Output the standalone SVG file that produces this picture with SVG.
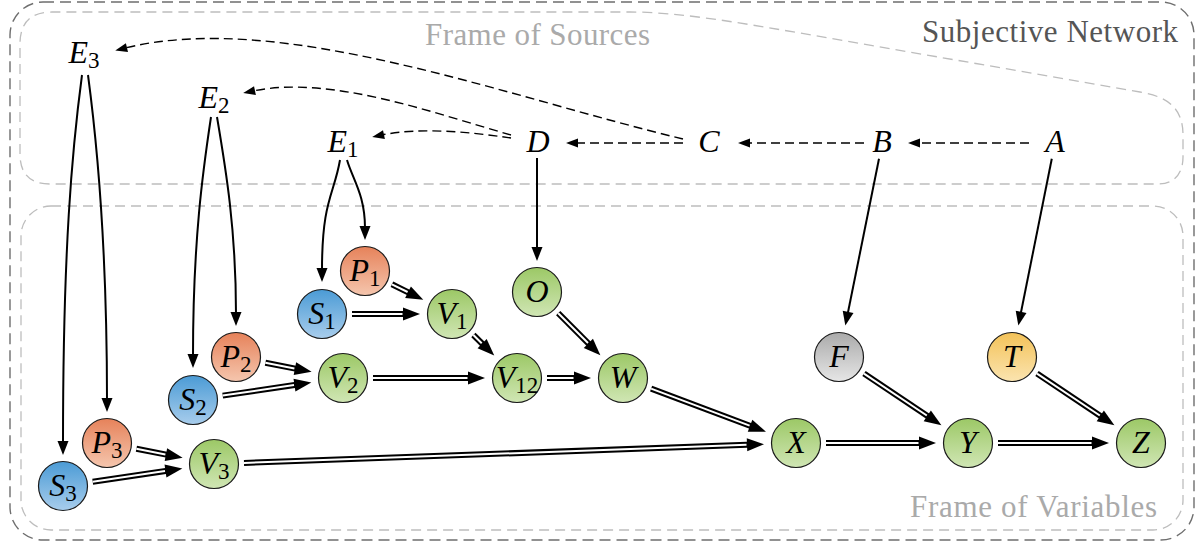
<svg xmlns="http://www.w3.org/2000/svg" width="1197" height="545" viewBox="0 0 1197 545">
  <style>
    .frame-outer { fill: none; stroke: #6e6e6e; stroke-width: 1.4; stroke-dasharray: 11 6; }
    .frame-inner { fill: none; stroke: #bdbdbd; stroke-width: 1.3; stroke-dasharray: 10 6; }
    .ftitle { font-family: "Liberation Serif", "DejaVu Serif", serif; font-size: 31px; }
    .lbl { font-family: "Liberation Serif", "DejaVu Serif", serif; font-style: italic; font-size: 32px; fill: #000; text-anchor: middle; }
    .sub { font-style: normal; font-size: 23px; }
    .node circle { stroke: #1a1a1a; stroke-width: 1.2; }
    .dash { fill: none; stroke: #000; stroke-width: 1.4; stroke-dasharray: 9 5; marker-end: url(#hdash); }
    .solid { fill: none; stroke: #000; stroke-width: 2; marker-end: url(#hs); }
    .dbl-o { fill: none; stroke: #000; stroke-width: 6; marker-end: url(#hd); }
    .dbl-i { fill: none; stroke: #fff; stroke-width: 2; }
  </style>
  <defs>
    <linearGradient id="gGreen" x1="0" y1="0" x2="0" y2="1">
      <stop offset="0" stop-color="#9cc866"/><stop offset="1" stop-color="#d0e6b4"/>
    </linearGradient>
    <linearGradient id="gBlue" x1="0" y1="0" x2="0" y2="1">
      <stop offset="0" stop-color="#4b9bd5"/><stop offset="1" stop-color="#a8cdec"/>
    </linearGradient>
    <linearGradient id="gOrange" x1="0" y1="0" x2="0" y2="1">
      <stop offset="0" stop-color="#e6825a"/><stop offset="1" stop-color="#f5c6ae"/>
    </linearGradient>
    <linearGradient id="gGray" x1="0" y1="0" x2="0" y2="1">
      <stop offset="0" stop-color="#aaaaaa"/><stop offset="1" stop-color="#e6e6e6"/>
    </linearGradient>
    <linearGradient id="gYellow" x1="0" y1="0" x2="0" y2="1">
      <stop offset="0" stop-color="#f3c258"/><stop offset="1" stop-color="#fbe4b0"/>
    </linearGradient>
    <!-- arrowheads: path end sits at the origin, tip points along +x -->
    <marker id="hd" markerUnits="userSpaceOnUse" orient="auto" overflow="visible" markerWidth="20" markerHeight="20">
      <path d="M10,0 L-7,-6.5 L-7,6.5 Z" fill="#000"/>
    </marker>
    <marker id="hs" markerUnits="userSpaceOnUse" orient="auto" overflow="visible" markerWidth="20" markerHeight="20">
      <path d="M12,0 L-2,-5.5 L-2,5.5 Z" fill="#000"/>
    </marker>
    <marker id="hdash" markerUnits="userSpaceOnUse" orient="auto" overflow="visible" markerWidth="20" markerHeight="20">
      <path d="M10,0 L-2,-4.5 L-2,4.5 Z" fill="#000"/>
    </marker>
  </defs>

  <rect width="1197" height="545" fill="#fff"/>

  <!-- frames -->
  <g id="frames">
    <rect class="frame-outer" x="10" y="2" width="1184" height="538" rx="33" ry="33"/>
    <path class="frame-inner" d="M20,154 L20,44 Q20,12 52,12 L630,12 C680,12 740,23 800,33 L1140,92 C1170,97 1183,110 1183,135 L1183,157 C1183,173 1175,184 1158,184 L50,184 Q20,184 20,154 Z"/>
    <rect class="frame-inner" x="21" y="206" width="1162" height="324" rx="30" ry="30"/>
    <text class="ftitle" x="922" y="42" fill="#555" textLength="256" lengthAdjust="spacing">Subjective Network</text>
    <text class="ftitle" x="425" y="45" fill="#aaa" textLength="225" lengthAdjust="spacing">Frame of Sources</text>
    <text class="ftitle" x="910" y="517" fill="#aaa" textLength="247" lengthAdjust="spacing">Frame of Variables</text>
  </g>

  <!-- connectors -->
  <g id="connectors">
    <!-- dashed source chain -->
    <path class="dash" d="M1029,143 L918,143"/>
    <path class="dash" d="M864,143 L748,143"/>
    <path class="dash" d="M683,143 L576,143"/>
    <path class="dash" d="M683,139 C500,95 280,10 125,48"/>
    <path class="dash" d="M511,135 C430,112 330,75 253,91"/>
    <path class="dash" d="M511,138 C470,132 420,127 382,135"/>

    <!-- solid source-to-variable arrows -->
    <path class="solid" d="M82,75 C72,150 63,250 63,443"/>
    <path class="solid" d="M88,75 C98,150 107,250 107,400"/>
    <path class="solid" d="M211,117 C203,170 193,240 193,356"/>
    <path class="solid" d="M217,117 C226,170 236,230 236,314"/>
    <path class="solid" d="M340,160 C334,195 322,200 322,270"/>
    <path class="solid" d="M347,160 C353,180 365,195 365,228"/>
    <path class="solid" d="M537,158 L537,249"/>
    <path class="solid" d="M879,158.7 L847.7,313.8"/>
    <path class="solid" d="M1051.8,158.7 L1020.7,313.8"/>

    <!-- double arrows: black body with head, white core on top -->
    <path class="dbl-o" d="M391.9,284.3 L414.3,295.4"/>
    <path class="dbl-i" d="M391.9,284.3 L407.6,292.0"/>
    <path class="dbl-o" d="M352,314 L410,314"/>
    <path class="dbl-i" d="M352,314 L402.5,314"/>
    <path class="dbl-o" d="M473.4,335.0 L487.1,348.5"/>
    <path class="dbl-i" d="M473.4,335.0 L481.7,343.3"/>
    <path class="dbl-o" d="M558.2,313.2 L593.3,348.3"/>
    <path class="dbl-i" d="M558.2,313.2 L588.0,343.0"/>
    <path class="dbl-o" d="M547,378 L581,378"/>
    <path class="dbl-i" d="M547,378 L573.5,378"/>
    <path class="dbl-o" d="M373,378 L475,378"/>
    <path class="dbl-i" d="M373,378 L467.5,378"/>
    <path class="dbl-o" d="M265.4,362.8 L301.8,369.9"/>
    <path class="dbl-i" d="M265.4,362.8 L294.4,368.4"/>
    <path class="dbl-o" d="M222.7,395.6 L301.4,384.05"/>
    <path class="dbl-i" d="M222.7,395.6 L294.0,385.1"/>
    <path class="dbl-o" d="M136.4,448.8 L172.8,455.9"/>
    <path class="dbl-i" d="M136.4,448.8 L165.4,454.4"/>
    <path class="dbl-o" d="M92.7,481.7 L172.4,470.0"/>
    <path class="dbl-i" d="M92.7,481.7 L165.0,471.1"/>
    <path class="dbl-o" d="M244.0,462.9 L754.0,444.5"/>
    <path class="dbl-i" d="M244.0,462.9 L746.5,444.8"/>
    <path class="dbl-o" d="M651.1,388.6 L756.6,428.2"/>
    <path class="dbl-i" d="M651.1,388.6 L749.6,425.6"/>
    <path class="dbl-o" d="M826,443 L926,443"/>
    <path class="dbl-i" d="M826,443 L918.5,443"/>
    <path class="dbl-o" d="M998,443 L1099,443"/>
    <path class="dbl-i" d="M998,443 L1091.5,443"/>
    <path class="dbl-o" d="M864.0,373.6 L933.1,419.7"/>
    <path class="dbl-i" d="M864.0,373.6 L926.8,415.5"/>
    <path class="dbl-o" d="M1037.0,373.6 L1106.1,419.7"/>
    <path class="dbl-i" d="M1037.0,373.6 L1099.8,415.5"/>
  </g>

  <!-- source nodes -->
  <g id="E3" class="node"><text class="lbl" x="84" y="63">E<tspan class="sub" dy="5">3</tspan></text></g>
  <g id="E2" class="node"><text class="lbl" x="214" y="108">E<tspan class="sub" dy="5">2</tspan></text></g>
  <g id="E1" class="node"><text class="lbl" x="343" y="152">E<tspan class="sub" dy="5">1</tspan></text></g>
  <g id="D" class="node"><text class="lbl" x="538" y="152">D</text></g>
  <g id="C" class="node"><text class="lbl" x="709" y="152">C</text></g>
  <g id="B" class="node"><text class="lbl" x="882" y="152">B</text></g>
  <g id="A" class="node"><text class="lbl" x="1055" y="152">A</text></g>

  <!-- variable nodes -->
  <g id="S3" class="node"><circle cx="63" cy="486" r="24.5" fill="url(#gBlue)"/><text class="lbl" x="63" y="496">S<tspan class="sub" dy="5">3</tspan></text></g>
  <g id="P3" class="node"><circle cx="107" cy="443" r="24.5" fill="url(#gOrange)"/><text class="lbl" x="107" y="453">P<tspan class="sub" dy="5">3</tspan></text></g>
  <g id="V3" class="node"><circle cx="214" cy="464" r="24.5" fill="url(#gGreen)"/><text class="lbl" x="214" y="474">V<tspan class="sub" dy="5">3</tspan></text></g>
  <g id="S2" class="node"><circle cx="193" cy="400" r="24.5" fill="url(#gBlue)"/><text class="lbl" x="193" y="410">S<tspan class="sub" dy="5">2</tspan></text></g>
  <g id="P2" class="node"><circle cx="236" cy="357" r="24.5" fill="url(#gOrange)"/><text class="lbl" x="236" y="367">P<tspan class="sub" dy="5">2</tspan></text></g>
  <g id="V2" class="node"><circle cx="343" cy="378" r="24.5" fill="url(#gGreen)"/><text class="lbl" x="343" y="388">V<tspan class="sub" dy="5">2</tspan></text></g>
  <g id="S1" class="node"><circle cx="322" cy="314" r="24.5" fill="url(#gBlue)"/><text class="lbl" x="322" y="324">S<tspan class="sub" dy="5">1</tspan></text></g>
  <g id="P1" class="node"><circle cx="365" cy="271" r="24.5" fill="url(#gOrange)"/><text class="lbl" x="365" y="281">P<tspan class="sub" dy="5">1</tspan></text></g>
  <g id="V1" class="node"><circle cx="452" cy="314" r="24.5" fill="url(#gGreen)"/><text class="lbl" x="452" y="324">V<tspan class="sub" dy="5">1</tspan></text></g>
  <g id="V12" class="node"><circle cx="517" cy="378" r="24.5" fill="url(#gGreen)"/><text class="lbl" x="517" y="388">V<tspan class="sub" dy="5">12</tspan></text></g>
  <g id="O" class="node"><circle cx="537" cy="292" r="24.5" fill="url(#gGreen)"/><text class="lbl" x="537" y="302">O</text></g>
  <g id="W" class="node"><circle cx="623" cy="378" r="24.5" fill="url(#gGreen)"/><text class="lbl" x="623" y="388">W</text></g>
  <g id="F" class="node"><circle cx="839" cy="357" r="24.5" fill="url(#gGray)"/><text class="lbl" x="839" y="367">F</text></g>
  <g id="T" class="node"><circle cx="1012" cy="357" r="24.5" fill="url(#gYellow)"/><text class="lbl" x="1012" y="367">T</text></g>
  <g id="X" class="node"><circle cx="796" cy="443" r="24.5" fill="url(#gGreen)"/><text class="lbl" x="796" y="453">X</text></g>
  <g id="Y" class="node"><circle cx="968" cy="443" r="24.5" fill="url(#gGreen)"/><text class="lbl" x="968" y="453">Y</text></g>
  <g id="Z" class="node"><circle cx="1141" cy="443" r="24.5" fill="url(#gGreen)"/><text class="lbl" x="1141" y="453">Z</text></g>
</svg>
